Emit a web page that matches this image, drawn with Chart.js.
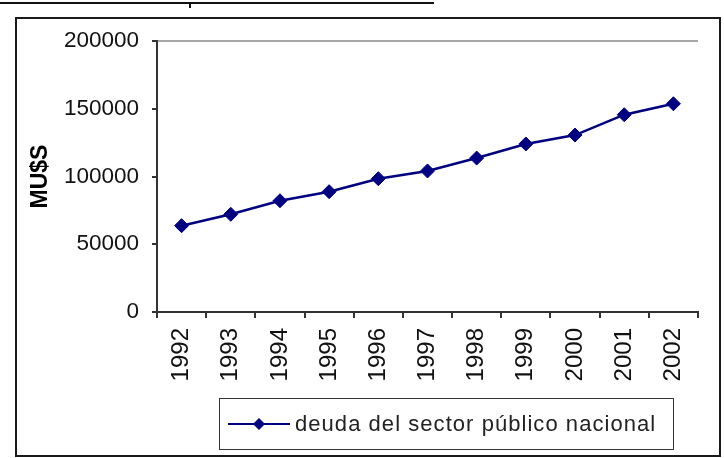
<!DOCTYPE html>
<html>
<head>
<meta charset="utf-8">
<script src="https://cdn.jsdelivr.net/npm/chart.js@4/dist/chart.umd.min.js"></script>
<style>
  body { margin: 0; background: #fff; }
  #wrap { position: relative; width: 724px; height: 458px; overflow: hidden; font-family: "Liberation Sans", Arial, sans-serif; }
  #rule { position: absolute; left: 0; top: 2px; width: 434px; height: 2px; background: #111; }
  #stub { position: absolute; left: 189px; top: 3px; width: 2px; height: 5px; background: #111; }
  #legend { position: absolute; box-sizing: border-box; left: 219px; top: 398px; width: 455px; height: 52px; border: 1px solid #333; display: flex; align-items: center; }
  #legend svg { margin-left: 8px; flex: none; }
  #legend span { margin-left: 5px; font-size: 22px; letter-spacing: 1.05px; color: #222; white-space: nowrap; }
  canvas { position: absolute; left: 0; top: 0; }
</style>
</head>
<body>
<div id="wrap">
  <div id="rule"></div>
  <div id="stub"></div>
  <canvas id="chart" width="724" height="458"></canvas>
  <div id="legend"></div>
</div>
<script>
const years = ["1992", "1993", "1994", "1995", "1996", "1997", "1998", "1999", "2000", "2001", "2002"];
const deuda = [63700, 72100, 82100, 88800, 98400, 104100, 113600, 124000, 130600, 145600, 153700];
const yTicks = [0, 50000, 100000, 150000, 200000];
const seriesName = "deuda del sector público nacional";
const axisTitle = "MU$S";
const navy = "#000080";

document.getElementById("legend").innerHTML =
  '<svg width="62" height="16"><line x1="0" y1="8" x2="62" y2="8" stroke="' + navy + '" stroke-width="2"/>' +
  '<polygon points="31,2 37,8 31,14 25,8" fill="' + navy + '"/></svg><span>' + seriesName + '</span>';

// outer chart frame, drawn on the canvas
const framePlugin = {
  id: "frame",
  beforeDraw(chart) {
    const ctx = chart.ctx;
    ctx.save();
    ctx.strokeStyle = "#1a1a1a";
    ctx.lineWidth = 2;
    ctx.strokeRect(16, 18, 704, 438);
    ctx.restore();
  }
};

new Chart(document.getElementById("chart"), {
  type: "line",
  plugins: [framePlugin],
  data: {
    labels: years,
    datasets: [{
      label: seriesName,
      data: deuda,
      borderColor: navy,
      borderWidth: 2.5,
      backgroundColor: navy,
      pointStyle: "rectRot",
      pointRadius: 7,
      pointBorderWidth: 1,
      pointBackgroundColor: navy,
      pointBorderColor: navy,
      tension: 0,
      fill: false
    }]
  },
  options: {
    responsive: false,
    animation: false,
    layout: { padding: { left: 18, right: 26, top: 41, bottom: 0 } },
    plugins: { legend: { display: false }, tooltip: { enabled: false } },
    scales: {
      x: {
        type: "category",
        offset: true,
        afterFit: s => { s.height = 146; },
        grid: {
          offset: true,
          drawOnChartArea: true,
          color: ctx => ctx.index === years.length ? "#a8a8a8" : "rgba(0,0,0,0)",
          tickColor: "#333",
          tickLength: 6,
          lineWidth: 2
        },
        border: { display: true, color: "#333", width: 2 },
        ticks: {
          minRotation: 90,
          maxRotation: 90,
          padding: 10,
          color: "#111",
          font: { family: "Liberation Sans", size: 24 }
        }
      },
      y: {
        min: 0,
        max: 200000,
        afterFit: s => { s.width = 139; },
        afterBuildTicks: s => { s.ticks = yTicks.map(v => ({ value: v })); },
        grid: {
          drawOnChartArea: true,
          color: ctx => ctx.tick && ctx.tick.value === 200000 ? "#a8a8a8" : "rgba(0,0,0,0)",
          tickColor: "#333",
          tickLength: 5,
          lineWidth: 2
        },
        border: { display: true, color: "#333", width: 2 },
        title: {
          display: true,
          text: axisTitle,
          color: "#000",
          font: { family: "Liberation Sans", size: 23, weight: "bold" },
          padding: { top: 9, bottom: 0 }
        },
        ticks: {
          padding: 13,
          color: "#111",
          font: { family: "Liberation Sans", size: 22.5 },
          callback: v => String(v)
        }
      }
    }
  }
});
</script>
</body>
</html>
